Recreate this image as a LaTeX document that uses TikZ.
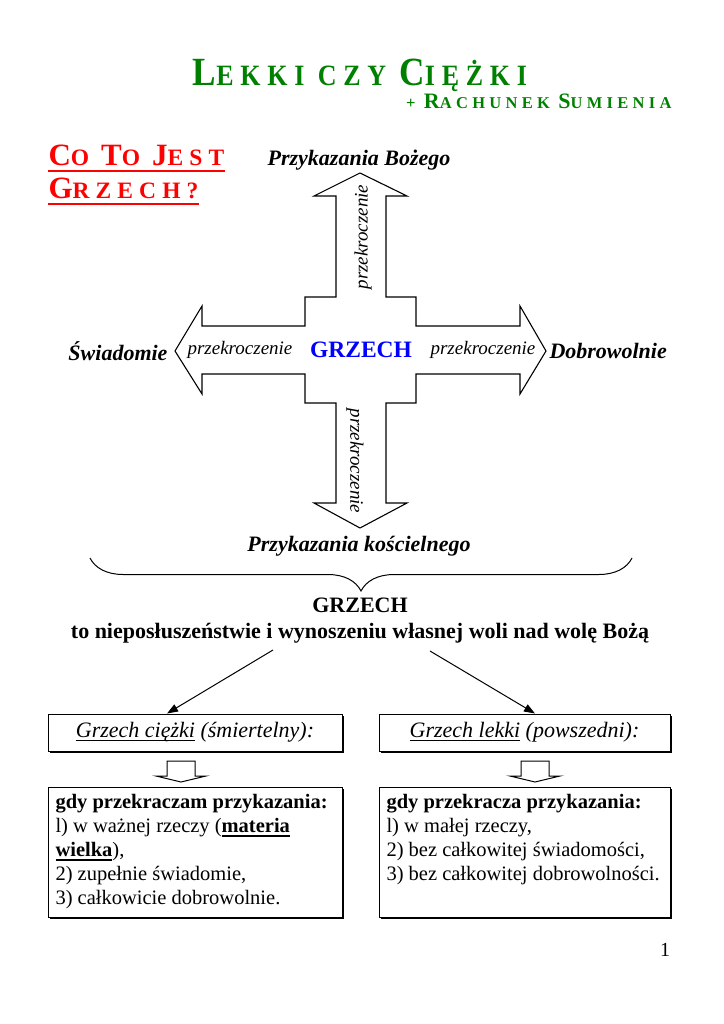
\documentclass[tikz,border=0pt]{standalone}
\usepackage{fontspec}
\setmainfont{Liberation Serif}
\newfontfamily\titlefont[LetterSpace=23, FakeStretch=0.88]{Liberation Serif}
\newfontfamily\widefont[LetterSpace=26]{Liberation Serif}
\usetikzlibrary{arrows.meta}
\usetikzlibrary{shadows}
\usetikzlibrary{decorations.pathreplacing}
\definecolor{titlegreen}{RGB}{0,128,0}
\newcommand\fs[1]{\fontsize{#1}{#1}\selectfont}
\newsavebox\linebox
\newcommand\uthin[1]{\sbox\linebox{#1}\rlap{\rule[-3pt]{\wd\linebox}{0.9pt}}\usebox\linebox}
\newcommand\uthick[1]{\sbox\linebox{#1}\rlap{\rule[-4pt]{\wd\linebox}{1.8pt}}\usebox\linebox}
\tikzstyle{goal} = [font=\fs{22}\bfseries\itshape, inner sep=0pt]
\tikzstyle{cross} = [font=\fs{19}\itshape, inner sep=0pt]
\tikzstyle{heading} = [text=red, font=\widefont\bfseries, inner sep=0pt, anchor=base west]
\tikzstyle{redline} = [red, line width=2.6pt]
\tikzstyle{kind} = [draw, fill=white, drop shadow={shadow xshift=1.5pt, shadow yshift=-1.5pt, opacity=1, fill=black}, minimum width=294pt, minimum height=37pt, inner sep=0pt, font=\fs{22}\itshape]
\tikzstyle{cond} = [draw, fill=white, drop shadow={shadow xshift=1.5pt, shadow yshift=-1.5pt, opacity=1, fill=black}, anchor=north west, inner sep=7pt, font=\fontsize{20.5}{24}\selectfont]
\tikzstyle{arrow} = [-{Triangle[length=11pt, width=8pt]}]

\begin{document}
\begin{tikzpicture}[x=1pt, y=-1pt, line width=1pt]
	\useasboundingbox (0,0) rectangle (723,1024);
	\node[text=titlegreen, font=\titlefont\bfseries, anchor=base, inner sep=0pt](title) at (360,86){\fs{40}L\fs{29.5}EKKI CZY \fs{40}C\fs{29.5}IĘŻKI};
	\node[text=titlegreen, font=\widefont\bfseries, anchor=base east, inner sep=0pt](subtitle) at (672,109){\fs{16.5}+ \fs{22}R\fs{16.5}ACHUNEK \fs{22}S\fs{16.5}UMIENIA};
	\node[heading](cojest) at (48,166){\fs{31}C\fs{23.5}O \fs{31}T\fs{23.5}O \fs{31}J\fs{23.5}EST};
	\node[heading](what) at (48,199){\fs{31}G\fs{23.5}RZECH?};
	\draw[redline]([yshift=-5pt]cojest.base west) -- ([yshift=-5pt]cojest.base east);
	\draw[redline]([yshift=-5pt]what.base west) -- ([yshift=-5pt]what.base east);

	\draw[line width=1.1pt] (360,173) -- (407,196) -- (386,196) -- (386,297) -- (416,297) -- (416,326)
		-- (520,326) -- (520,306) -- (546,351) -- (520,394) -- (520,374) -- (416,374) -- (416,403)
		-- (386,403) -- (386,503) -- (407,503) -- (360,528) -- (314,503) -- (336,503) -- (336,403)
		-- (305,403) -- (305,374) -- (202,374) -- (202,394) -- (175,351) -- (202,306) -- (202,326)
		-- (305,326) -- (305,297) -- (336,297) -- (336,196) -- (314,196) -- cycle;
	\node[goal](god) at (359,160){Przykazania Bożego};
	\node[goal](church) at (359,546){Przykazania kościelnego};
	\node[goal, anchor=east](aware) at (168,351){Świadomie};
	\node[goal, anchor=west](willing) at (549,351){Dobrowolnie};
	\node[font=\fs{23.5}\bfseries, text=blue](grzech) at (361,350){GRZECH};
	\node[cross](crossleft) at (240,350){przekroczenie};
	\node[cross](crossright) at (483,350){przekroczenie};
	\node[cross, rotate=90](crossup) at (363,237){przekroczenie};
	\node[cross, rotate=-90](crossdown) at (355,461){przekroczenie};

	\draw[decorate, decoration={brace, mirror, amplitude=33pt}] (90,558) -- (632,558);
	\node[font=\fs{22}\bfseries](sin) at (360,605){GRZECH};
	\node[font=\fs{22}\bfseries](def) at (360,633){to nieposłuszeństwie i wynoszeniu własnej woli nad wolę Bożą};

	\node[kind](heavy) at (195,732.5){\uthin{Grzech ciężki} (śmiertelny):};
	\node[kind, minimum width=291pt](light) at (524.5,732.5){\uthin{Grzech lekki} (powszedni):};
	\coordinate (fromheavy) at (273,650);
	\coordinate (fromlight) at (430,651);
	\draw[arrow](fromheavy) -- ([xshift=-28pt]heavy.north);
	\draw[arrow](fromlight) -- ([xshift=10.5pt]light.north);

	\foreach \x in {181,535}
		\draw (\x-14,761) -- (\x+14,761) -- (\x+14,776) -- (\x+25,776) -- (\x,782) -- (\x-25,776) -- (\x-14,776) -- cycle;

	\node[cond](heavycond) at (48,787){\parbox[t][116pt][t]{280pt}{\textbf{gdy przekraczam przykazania:}\\
		l) w ważnej rzeczy (\uthick{\textbf{materia}}\\
		\uthick{\textbf{wielka}}),\\
		2) zupełnie świadomie,\\
		3) całkowicie dobrowolnie.}};
	\node[cond](lightcond) at (379,787){\parbox[t][116pt][t]{277pt}{\textbf{gdy przekracza przykazania:}\\
		l) w małej rzeczy,\\
		2) bez całkowitej świadomości,\\
		3) bez całkowitej dobrowolności.}};
	\node[font=\fs{20}](page) at (665,950){1};
\end{tikzpicture}
\end{document}
